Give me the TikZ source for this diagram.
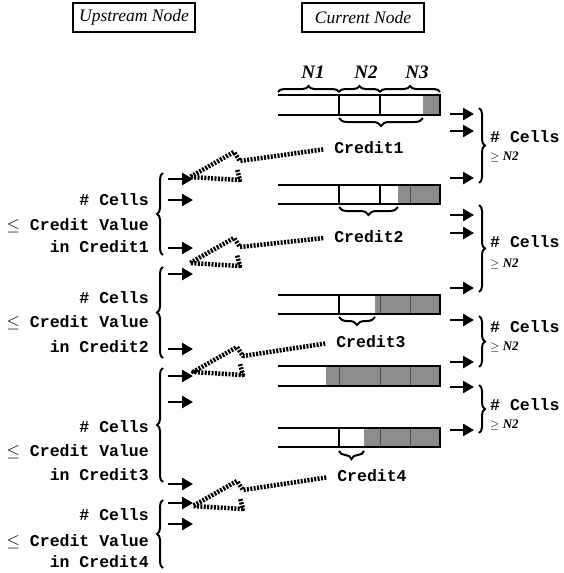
\documentclass[tikz,border=0pt]{standalone}
\usepackage{fontspec}
\setmainfont{Liberation Serif}
\setmonofont{Liberation Mono}
\usetikzlibrary{arrows.meta,positioning,calc,decorations.pathreplacing}
\newcommand{\crfont}{\fontsize{16.5}{18}\ttfamily\bfseries\selectfont}

\begin{document}
\begin{tikzpicture}[x=1pt, y=-1pt,
  hdr/.style={draw, line width=2.4pt, minimum width=122pt, minimum height=29pt, inner sep=2pt, font=\fontsize{17.5}{19}\itshape\selectfont},
  nlbl/.style={font=\fontsize{19}{21}\bfseries\itshape\selectfont},
  cr/.style={font=\crfont, inner sep=1pt},
  lbl/.style={font=\crfont, inner sep=0pt, anchor=east},
  rlbl/.style={font=\crfont, inner sep=0pt, anchor=west},
  gelbl/.style={font=\fontsize{13}{15}\selectfont, inner sep=0pt, anchor=west},
  buf/.style={line width=2.8pt},
  div/.style={line width=2.2pt},
  cellfill/.style={fill=black!45},
  celldiv/.style={black!70, line width=1pt},
  brc/.style={decorate, decoration={brace, amplitude=6pt}, line width=2pt},
  cbrc/.style={decorate, decoration={brace, amplitude=8pt}, line width=2pt},
  arr/.style={-{Triangle[length=11pt,width=12pt]}, line width=2.6pt},
  hatch/.style={line width=4.5pt, dash pattern=on 2pt off 1.4pt, line join=round, shorten <=10pt}
]
\useasboundingbox (0,0) rectangle (563,573);

\node[hdr] (up) at (134,17.5) {Upstream Node};
\node[hdr] (cur) at (363,17.5) {Current Node};

\node[nlbl] (n1) at (313,72) {N1};
\node[nlbl] (n2) at (366,72) {N2};
\node[nlbl] (n3) at (417,72) {N3};
\draw[brc] (278,92) -- (339,92);
\draw[brc] (339,92) -- (380,92);
\draw[brc] (380,92) -- (440,92);

% buffers of the current node
\fill[cellfill] (423,95) rectangle (440,115);
\draw[buf] (278,95) -- (440,95) -- (440,115) -- (278,115);
\draw[div] (339,95) -- (339,115);
\draw[div] (380,95) -- (380,115);

\fill[cellfill] (398,185) rectangle (440,204);
\draw[celldiv] (410,185) -- (410,204);
\draw[buf] (278,185) -- (440,185) -- (440,204) -- (278,204);
\draw[div] (339,185) -- (339,204);
\draw[div] (380,185) -- (380,204);

\fill[cellfill] (375,295) rectangle (440,314);
\draw[celldiv] (380,295) -- (380,314);
\draw[celldiv] (410,295) -- (410,314);
\draw[buf] (278,295) -- (440,295) -- (440,314) -- (278,314);
\draw[div] (339,295) -- (339,314);

\fill[cellfill] (326,366) rectangle (440,386);
\draw[celldiv] (339,366) -- (339,386);
\draw[celldiv] (380,366) -- (380,386);
\draw[celldiv] (410,366) -- (410,386);
\draw[buf] (278,366) -- (440,366) -- (440,386) -- (278,386);

\fill[cellfill] (364,428) rectangle (440,447);
\draw[celldiv] (380,428) -- (380,447);
\draw[celldiv] (410,428) -- (410,447);
\draw[buf] (278,428) -- (440,428) -- (440,447) -- (278,447);
\draw[div] (339,428) -- (339,447);

% credits
\draw[cbrc] (423,118) -- (339,118);
\draw[cbrc] (398,207) -- (339,207);
\draw[cbrc] (375,317) -- (339,317);
\draw[cbrc] (364,451) -- (339,451);
\node[cr] (cr1) at (369,148) {Credit1};
\node[cr] (cr2) at (369,237) {Credit2};
\node[cr] (cr3) at (371,342) {Credit3};
\node[cr] (cr4) at (372,476) {Credit4};

% cells leaving the current node
\draw[arr] (450,114) -- (474,114);
\draw[arr] (450,131) -- (474,131);
\draw[arr] (450,178) -- (474,178);
\draw[arr] (450,215) -- (474,215);
\draw[arr] (450,233) -- (474,233);
\draw[arr] (450,288) -- (474,288);
\draw[arr] (450,320) -- (474,320);
\draw[arr] (450,362) -- (474,362);
\draw[arr] (450,387) -- (474,387);
\draw[arr] (450,430) -- (474,430);
\draw[brc] (479,108) -- (479,183);
\draw[brc] (479,205) -- (479,292);
\draw[brc] (479,316) -- (479,367);
\draw[brc] (479,385) -- (479,433);
\node[rlbl] (rc1) at (490,137) {\# Cells};
\node[gelbl, below=20pt of rc1.west, anchor=west] (rg1) {$\geq$ \textbf{\textit{N2}}};
\node[rlbl] (rc2) at (490,242) {\# Cells};
\node[gelbl, below=22pt of rc2.west, anchor=west] (rg2) {$\geq$ \textbf{\textit{N2}}};
\node[rlbl] (rc3) at (490,327) {\# Cells};
\node[gelbl, below=20pt of rc3.west, anchor=west] (rg3) {$\geq$ \textbf{\textit{N2}}};
\node[rlbl] (rc4) at (490,405) {\# Cells};
\node[gelbl, below=20pt of rc4.west, anchor=west] (rg4) {$\geq$ \textbf{\textit{N2}}};

% cells arriving from the upstream node
\draw[arr] (168,179) -- (193,179);
\draw[arr] (168,200) -- (193,200);
\draw[arr] (168,248) -- (193,248);
\draw[arr] (168,274) -- (193,274);
\draw[arr] (168,349) -- (193,349);
\draw[arr] (168,376) -- (193,376);
\draw[arr] (168,402) -- (193,402);
\draw[arr] (168,484) -- (193,484);
\draw[arr] (168,503) -- (193,503);
\draw[arr] (168,524) -- (193,524);
\draw[brc] (163,255) -- (163,173);
\draw[brc] (163,358) -- (163,267);
\draw[brc] (163,482) -- (163,368);
\draw[brc] (163,568) -- (163,500);

\node[lbl] (lc1) at (149,200) {\# Cells};
\node[lbl] (lv1) at (149,226) {$\leq$ Credit Value};
\node[lbl] (li1) at (149,247) {in Credit1};
\node[lbl] (lc2) at (149,298) {\# Cells};
\node[lbl] (lv2) at (149,323) {$\leq$ Credit Value};
\node[lbl] (li2) at (149,347) {in Credit2};
\node[lbl] (lc3) at (149,427) {\# Cells};
\node[lbl] (lv3) at (149,452) {$\leq$ Credit Value};
\node[lbl] (li3) at (149,475) {in Credit3};
\node[lbl] (lc4) at (149,515) {\# Cells};
\node[lbl] (lv4) at (149,542) {$\leq$ Credit Value};
\node[lbl] (li4) at (149,562) {in Credit4};

% credits sent back upstream
\coordinate (t1) at (190,177);
\coordinate (t2) at (190,263);
\coordinate (t3) at (193,372);
\coordinate (t4) at (193,506);
\draw[hatch] (cr1.west) -- ($(t1)+(50,-16)$) -- ($(t1)+(44,-25)$) -- (t1) -- ($(t1)+(50,3)$) -- ($(t1)+(47,-8)$);
\draw[hatch] (cr2.west) -- ($(t2)+(50,-16)$) -- ($(t2)+(44,-25)$) -- (t2) -- ($(t2)+(50,3)$) -- ($(t2)+(47,-8)$);
\draw[hatch] (cr3.west) -- ($(t3)+(50,-16)$) -- ($(t3)+(44,-25)$) -- (t3) -- ($(t3)+(50,3)$) -- ($(t3)+(47,-8)$);
\draw[hatch] (cr4.west) -- ($(t4)+(50,-16)$) -- ($(t4)+(44,-25)$) -- (t4) -- ($(t4)+(50,3)$) -- ($(t4)+(47,-8)$);

\end{tikzpicture}
\end{document}
